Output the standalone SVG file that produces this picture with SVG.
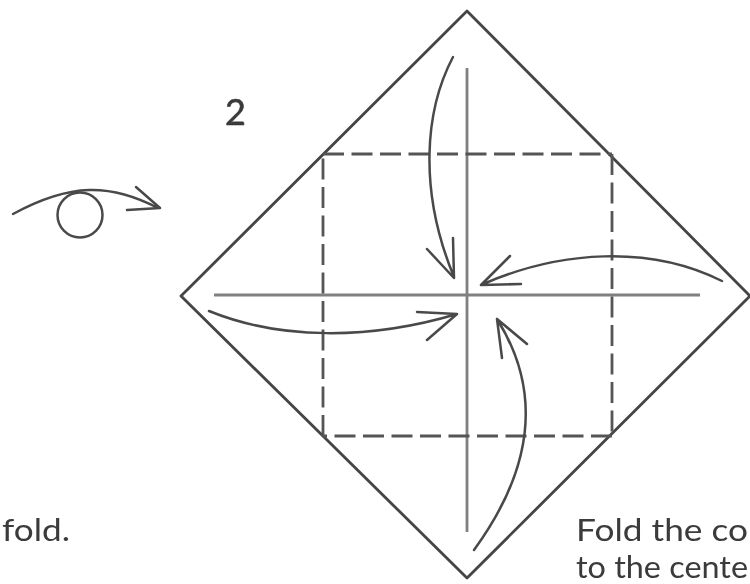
<svg xmlns="http://www.w3.org/2000/svg" width="750" height="584" viewBox="0 0 750 584">
<defs><filter id="soft" x="-5%" y="-5%" width="110%" height="110%"><feGaussianBlur stdDeviation="0.6"/></filter></defs>
<style>
.l{fill:none;stroke:#444;stroke-width:2.8;stroke-linecap:round;stroke-linejoin:round}
.c{fill:none;stroke:#808080;stroke-width:2.8}
.d{fill:none;stroke:#555;stroke-width:2.8;stroke-dasharray:21 7.5}
.a{fill:none;stroke:#4a4a4a;stroke-width:2.5;stroke-linecap:round;stroke-linejoin:round}
text{font-family:"Lato","Liberation Sans",sans-serif;fill:#3a3a3a}
</style>
<rect width="750" height="584" fill="#fff"/>
<g filter="url(#soft)">
<g id="square"><path class="l" d="M467 11L750 296L467 578L181 296Z"/></g>
<g id="creases"><path class="c" d="M467 68V532M214 295H700"/></g>
<g id="fold-square"><path class="d" d="M323 154H612"/><path class="d" d="M612 154V436"/><path class="d" d="M612 436H323"/><path class="d" d="M323 436V154"/></g>
<g id="connectors">
<path class="a" d="M453 57C425 110 418 190 454 277M427 249L454 278L453 238"/>
<path class="a" d="M722 281C650 245 560 250 481 285M510 256L481 285L521 284"/>
<path class="a" d="M209 311C280 340 370 340 457 314M417 312L457 314L427 340"/>
<path class="a" d="M474 550C525 480 548 400 497 319M502 358L497 319L527 344"/>
<path class="a" d="M13 214C70 183 110 183 158 208M127 210L160 208L136 187"/>
</g>
<g id="eye"><circle class="a" cx="80" cy="215" r="22.5"/></g>
<g id="labels">
<text x="225" y="125" font-size="36" stroke="#3a3a3a" stroke-width="0.6">2</text>
<text x="2" y="541" font-size="31" textLength="68" lengthAdjust="spacingAndGlyphs">fold.</text>
<text x="576" y="541" font-size="31" textLength="172" lengthAdjust="spacingAndGlyphs">Fold the co</text>
<text x="576" y="578" font-size="31" textLength="172" lengthAdjust="spacingAndGlyphs">to the cente</text>
</g>
</g>
</svg>
